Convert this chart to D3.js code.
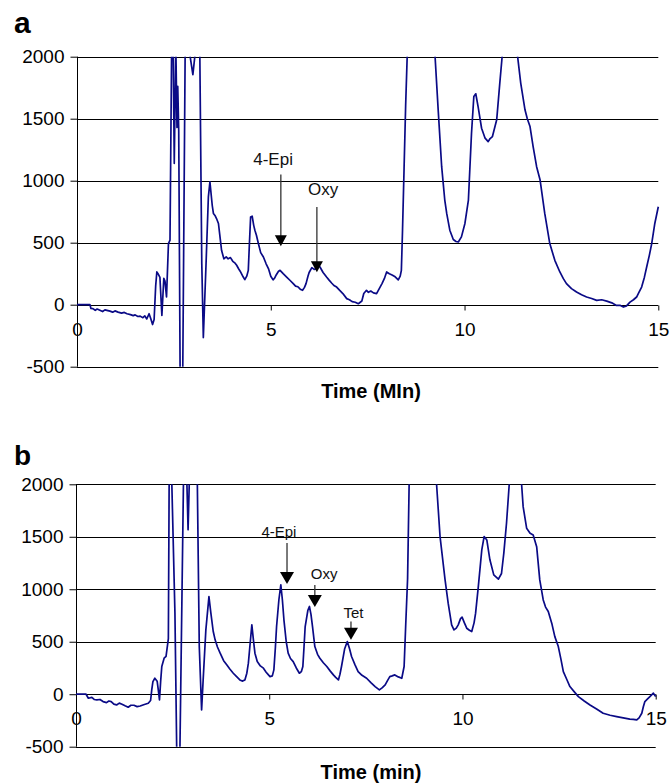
<!DOCTYPE html>
<html>
<head>
<meta charset="utf-8">
<script src="https://cdn.jsdelivr.net/npm/d3@7"></script>
<style>
  html, body { margin: 0; padding: 0; background: #fff; }
  svg { display: block; font-family: "Liberation Sans", Arial, Helvetica, sans-serif; }
</style>
</head>
<body>
<svg id="chart" width="671" height="783"></svg>
<script>
// ---------------- DATA ----------------
const xTicks = [0, 5, 10, 15];
const yTicks = [-500, 0, 500, 1000, 1500, 2000];
const panelLabels = ["a", "b"];
const axisTitles = ["Time (MIn)", "Time (min)"];

// Panel a trace: [time (min), signal]
const traceA = [
  [0,0],[0.335,0],[0.36,-30],[0.41,-32],[0.47,-45],[0.52,-35],[0.59,-45],[0.66,-55],[0.72,-42],[0.85,-52],
  [0.92,-60],[0.98,-50],[1.06,-60],[1.15,-68],[1.22,-62],[1.29,-73],[1.38,-80],[1.45,-88],[1.50,-82],[1.57,-95],
  [1.63,-92],[1.70,-105],[1.75,-90],[1.80,-115],[1.86,-73],[1.90,-110],[1.95,-160],[1.99,-120],[2.03,150],[2.06,264],
  [2.09,250],[2.14,220],[2.19,-86],[2.24,212],[2.27,190],[2.31,62],[2.36,493],[2.40,520],[2.44,2000],[2.47,2400],
  [2.51,1140],[2.55,2100],[2.58,1430],[2.60,1760],[2.625,1400],[2.66,-500],[2.69,-750],[2.73,-500],[2.79,2000],[2.84,2500],
  [2.92,2000],[2.99,1855],[3.04,2000],[3.10,2300],[3.17,2000],[3.22,330],[3.26,-265],[3.33,330],[3.39,870],[3.43,990],
  [3.49,800],[3.52,736],[3.56,720],[3.60,695],[3.65,655],[3.70,520],[3.73,439],[3.79,370],[3.85,385],[3.90,370],
  [3.96,380],[4.02,350],[4.08,335],[4.12,318],[4.17,290],[4.21,270],[4.29,223],[4.33,202],[4.38,230],[4.42,277],
  [4.45,500],[4.48,708],[4.52,714],[4.56,640],[4.59,600],[4.63,560],[4.68,493],[4.74,420],[4.81,385],[4.88,330],
  [4.94,291],[5.00,230],[5.06,200],[5.10,215],[5.14,240],[5.20,270],[5.24,277],[5.32,250],[5.41,223],[5.50,195],
  [5.58,170],[5.64,150],[5.70,145],[5.76,125],[5.82,116],[5.87,140],[5.91,170],[5.96,230],[5.99,260],[6.06,299],
  [6.12,285],[6.17,290],[6.22,320],[6.27,304],[6.35,260],[6.44,223],[6.50,200],[6.57,175],[6.63,155],[6.70,142],
  [6.78,115],[6.86,90],[6.96,49],[7.03,40],[7.10,25],[7.18,20],[7.26,8],[7.35,30],[7.40,90],[7.47,116],
  [7.52,100],[7.58,110],[7.65,95],[7.73,89],[7.80,130],[7.87,170],[7.93,210],[7.99,264],[8.06,250],[8.13,240],
  [8.21,225],[8.29,200],[8.34,230],[8.37,277],[8.40,600],[8.44,1100],[8.48,1600],[8.52,2000],[8.64,2700],[8.88,3000],
  [9.11,2700],[9.24,2000],[9.32,1571],[9.41,1113],[9.49,844],[9.54,736],[9.62,601],[9.71,526],[9.78,510],[9.84,506],
  [9.92,547],[10.01,655],[10.10,844],[10.18,1383],[10.24,1679],[10.29,1701],[10.35,1598],[10.44,1423],[10.53,1343],[10.61,1315],
  [10.66,1340],[10.72,1356],[10.83,1491],[10.91,1787],[10.97,2000],[11.07,2200],[11.17,2250],[11.27,2200],[11.37,2000],[11.45,1787],
  [11.56,1572],[11.62,1500],[11.69,1437],[11.77,1275],[11.86,1113],[11.95,1005],[12.07,736],[12.20,493],[12.33,358],[12.46,264],
  [12.55,210],[12.63,170],[12.76,130],[12.89,102],[13.02,80],[13.15,62],[13.28,50],[13.41,35],[13.54,40],[13.67,29],
  [13.80,15],[13.92,-6],[14.01,-5],[14.10,-19],[14.18,-10],[14.27,21],[14.36,40],[14.44,62],[14.50,100],[14.57,142],
  [14.64,220],[14.70,304],[14.77,400],[14.83,493],[14.91,655],[15.0,790]
];

// Panel b trace: [time (min), signal]
const traceB = [
  [0,0],[0.26,0],[0.32,-38],[0.41,-30],[0.47,-50],[0.54,-54],[0.62,-50],[0.70,-70],[0.79,-80],[0.85,-65],
  [0.91,-70],[0.98,-95],[1.05,-102],[1.12,-85],[1.19,-95],[1.27,-110],[1.35,-124],[1.42,-105],[1.50,-105],[1.58,-118],
  [1.66,-112],[1.75,-100],[1.87,-86],[1.93,-60],[1.96,41],[1.99,120],[2.04,152],[2.10,124],[2.13,40],[2.16,-54],
  [2.19,120],[2.22,264],[2.28,343],[2.33,360],[2.39,530],[2.41,2000],[2.44,2400],[2.48,2000],[2.56,773],[2.605,-500],
  [2.65,-750],[2.69,-500],[2.78,2000],[2.82,2300],[2.87,2000],[2.90,1566],[2.93,2000],[3.02,2500],[3.14,2000],[3.19,454],
  [3.25,-150],[3.29,136],[3.36,613],[3.44,930],[3.49,773],[3.55,600],[3.60,518],[3.66,450],[3.73,391],[3.82,320],
  [3.90,280],[3.98,240],[4.07,200],[4.15,170],[4.24,136],[4.30,125],[4.37,136],[4.42,200],[4.46,296],[4.51,500],
  [4.55,661],[4.59,520],[4.63,391],[4.69,311],[4.77,270],[4.85,248],[4.92,210],[4.98,184],[5.02,168],[5.08,175],
  [5.12,232],[5.16,450],[5.19,645],[5.25,900],[5.30,1043],[5.34,900],[5.38,709],[5.44,500],[5.49,391],[5.55,340],
  [5.62,311],[5.70,250],[5.78,200],[5.83,215],[5.87,264],[5.90,450],[5.93,645],[6.00,800],[6.04,836],[6.08,760],
  [6.12,645],[6.18,454],[6.25,380],[6.31,343],[6.40,300],[6.49,264],[6.58,220],[6.66,184],[6.72,160],[6.79,136],
  [6.83,190],[6.87,264],[6.95,430],[7.02,502],[7.08,430],[7.13,359],[7.22,280],[7.30,216],[7.40,180],[7.52,152],
  [7.63,110],[7.74,73],[7.85,41],[7.92,60],[8.00,89],[8.06,130],[8.12,168],[8.18,175],[8.25,184],[8.34,165],
  [8.43,152],[8.49,264],[8.53,645],[8.58,1100],[8.62,2000],[8.77,2800],[8.98,3000],[9.19,2700],[9.33,2000],[9.42,1502],
  [9.55,1089],[9.63,867],[9.72,661],[9.78,613],[9.84,630],[9.89,661],[9.95,720],[9.99,734],[10.05,680],[10.11,629],
  [10.18,610],[10.24,597],[10.30,680],[10.34,772],[10.41,1025],[10.50,1375],[10.56,1502],[10.63,1470],[10.71,1281],[10.81,1137],
  [10.93,1097],[11.01,1150],[11.07,1345],[11.14,1631],[11.21,2000],[11.37,2100],[11.53,2000],[11.57,1787],[11.66,1582],[11.75,1534],
  [11.83,1518],[11.92,1406],[12.00,1089],[12.09,898],[12.15,830],[12.22,788],[12.31,677],[12.39,549],[12.48,454],[12.55,330],
  [12.61,216],[12.70,140],[12.78,73],[12.90,20],[13.00,-23],[13.15,-65],[13.30,-102],[13.47,-140],[13.64,-181],[13.82,-200],
  [13.99,-213],[14.16,-225],[14.33,-238],[14.42,-240],[14.51,-245],[14.57,-225],[14.64,-181],[14.68,-120],[14.72,-70],[14.79,-45],
  [14.85,-23],[14.94,10],[15.0,-23]
];

// Peak annotations: label, arrow time, arrow tip value, arrow start value, label time, label baseline value
const annotA = [
  { label: "4-Epi", t: 5.26, tip: 472, top: 1050, lt: 5.06, lv: 1127 },
  { label: "Oxy",   t: 6.19, tip: 261, top: 787,  lt: 6.35, lv: 882 }
];
const annotB = [
  { label: "4-Epi", t: 5.46, tip: 1051, top: 1441, lt: 5.25, lv: 1496 },
  { label: "Oxy",   t: 6.18, tip: 832,  top: 1041, lt: 6.42, lv: 1094 },
  { label: "Tet",   t: 7.115, tip: 518, top: 692,  lt: 7.18, lv: 724 }
];

// ---------------- LAYOUT ----------------
const panels = [
  { trace: traceA, annot: annotA, label: panelLabels[0], title: axisTitles[0],
    left: 77, right: 658.3, top: 56.7, bottom: 366.7,
    labelX: 14, labelY: 33, labelSize: 30, titleY: 398, annSize: 17, headW: 12, headH: 11 },
  { trace: traceB, annot: annotB, label: panelLabels[1], title: axisTitles[1],
    left: 76, right: 655.7, top: 484.3, bottom: 746.7,
    labelX: 14, labelY: 465, labelSize: 28, titleY: 779, annSize: 15, headW: 14, headH: 12 }
];

const svg = d3.select("#chart");
const fmt = d => String(d);

panels.forEach((p, i) => {
  const x = d3.scaleLinear().domain([0, 15]).range([p.left, p.right]);
  const y = d3.scaleLinear().domain([-500, 2000]).range([p.bottom, p.top]);
  const g = svg.append("g");

  // horizontal gridlines
  g.append("g").selectAll("line").data(yTicks).join("line")
    .attr("x1", p.left).attr("x2", p.right)
    .attr("y1", d => Math.round(y(d)) + 0.5).attr("y2", d => Math.round(y(d)) + 0.5)
    .attr("stroke", "#000").attr("stroke-width", 1);

  // y axis
  const yAxis = g.append("g")
    .attr("transform", `translate(${Math.round(p.left) + 0.5},0)`)
    .call(d3.axisLeft(y).tickValues(yTicks).tickSize(7).tickPadding(6).tickFormat(fmt));
  yAxis.select(".domain").attr("stroke", "#000").attr("d", `M0,${y(2000)}V${y(-500)}`);
  yAxis.selectAll(".tick line").attr("stroke", "#000");
  yAxis.selectAll(".tick text").attr("font-size", 19).attr("fill", "#000")
    .attr("font-family", "'Liberation Sans', Arial, sans-serif");

  // x axis at value 0
  const xAxis = g.append("g")
    .attr("transform", `translate(0,${Math.round(y(0)) + 0.5})`)
    .call(d3.axisBottom(x).tickValues(xTicks).tickSize(5).tickPadding(12).tickFormat(fmt));
  xAxis.select(".domain").remove();
  xAxis.selectAll(".tick line").attr("stroke", "#000");
  xAxis.selectAll(".tick text").attr("font-size", 19).attr("fill", "#000")
    .attr("font-family", "'Liberation Sans', Arial, sans-serif");

  // clip
  const clipId = "clip" + i;
  svg.append("clipPath").attr("id", clipId).append("rect")
    .attr("x", p.left).attr("y", p.top).attr("width", p.right - p.left + 2).attr("height", p.bottom - p.top);

  // trace
  const line = d3.line().x(d => x(d[0])).y(d => y(d[1]));
  g.append("path").datum(p.trace)
    .attr("clip-path", `url(#${clipId})`)
    .attr("d", line)
    .attr("fill", "none")
    .attr("stroke", "#0a0a86")
    .attr("stroke-width", 1.7)
    .attr("stroke-linejoin", "round");

  // annotations
  p.annot.forEach(a => {
    const ax = x(a.t);
    g.append("line")
      .attr("x1", ax).attr("x2", ax)
      .attr("y1", y(a.top)).attr("y2", y(a.tip) - p.headH + 1)
      .attr("stroke", "#333").attr("stroke-width", 1.3);
    const ty = y(a.tip);
    g.append("path")
      .attr("d", `M${ax - p.headW / 2},${ty - p.headH}L${ax + p.headW / 2},${ty - p.headH}L${ax},${ty}Z`)
      .attr("fill", "#000");
    g.append("text")
      .attr("x", x(a.lt)).attr("y", y(a.lv))
      .attr("text-anchor", "middle")
      .attr("font-size", p.annSize)
      .attr("fill", "#111")
      .text(a.label);
  });

  // panel label
  svg.append("text")
    .attr("x", p.labelX).attr("y", p.labelY)
    .attr("font-size", p.labelSize).attr("font-weight", "bold")
    .text(p.label);

  // x-axis title
  svg.append("text")
    .attr("x", 371).attr("y", p.titleY)
    .attr("text-anchor", "middle")
    .attr("font-size", 20).attr("font-weight", "bold")
    .text(p.title);
});
</script>
</body>
</html>
